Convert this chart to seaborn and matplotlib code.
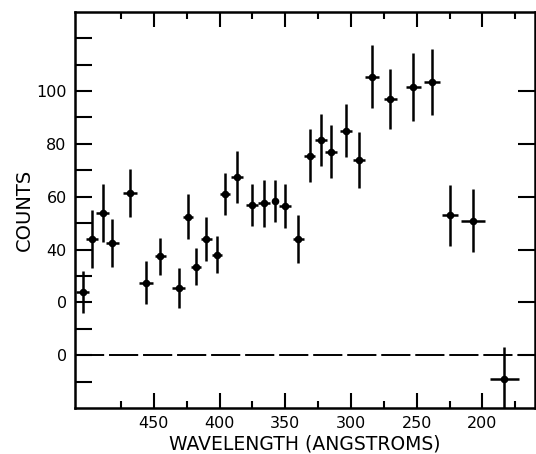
import numpy as np
import pandas as pd
import matplotlib
matplotlib.use("Agg")
import matplotlib.pyplot as plt
import seaborn as sns

# data
wavelength = [504, 497, 489, 481.5, 468, 456, 445, 431, 424, 418, 410, 402, 396,
              386.5, 375.5, 366.5, 358, 350, 340, 331.5, 322.5, 315, 304, 294,
              284, 270, 252.5, 238.5, 224.5, 207, 183.5]
counts = [24, 44, 54, 42.5, 61.5, 27.5, 37.5, 25.5, 52.5, 33.5, 44, 38, 61,
          67.5, 57, 57.5, 58.5, 56.5, 44, 75.5, 81.5, 77, 85, 74,
          105.5, 97, 101.5, 103.5, 53, 51, -9]
count_err = [8, 11, 11, 9, 9, 8, 7, 7.5, 8.5, 7, 8.5, 7, 8,
             10, 8, 9, 8, 8.5, 9, 10, 10, 10, 10, 10.5,
             12, 11.5, 13, 12.5, 11.5, 12, 12]
wave_err = [5, 4.5, 5, 5, 5.5, 5, 4.5, 5, 4, 4, 4.5, 4, 4,
            4.5, 4.5, 4.5, 0, 4.5, 4.5, 4.5, 4.5, 4.5, 4.5, 4.5,
            5.5, 5, 6, 6, 6, 9, 11]

ytick_vals = [0, 20, 40, 60, 80, 100]
ytick_text = ["0", "0", "40", "60", "80", "100"]
xtick_vals = [450, 400, 350, 300, 250, 200]

df = pd.DataFrame({"wavelength": wavelength, "counts": counts})

sns.set_theme(style="ticks")
plt.rcParams["font.family"] = ["DejaVu Sans"]

fig = plt.figure(figsize=(5.36, 4.54), dpi=100)
ax = fig.add_axes([0.14, 0.101, 0.858, 0.873])

ax.errorbar(wavelength, counts, xerr=wave_err, yerr=count_err, fmt="none",
            ecolor="black", elinewidth=1.8, capsize=0)
sns.scatterplot(data=df, x="wavelength", y="counts", ax=ax, color="black",
                marker="o", s=30, edgecolor="black", linewidth=0, zorder=3)

# zero line
ax.axhline(0, color="black", lw=1.4, ls=(0, (15, 2.5)))

ax.set_xlim(510, 160)
ax.set_ylim(-20, 130)

ax.set_xticks(xtick_vals)
ax.set_xticks(np.arange(475, 160, -50), minor=True)
ax.set_yticks(ytick_vals)
ax.set_yticklabels(ytick_text)
ax.set_yticks([-10, 10, 30, 50, 70, 90, 110, 120], minor=True)

ax.tick_params(which="both", direction="in", top=True, right=True,
               width=1.5, color="black", labelsize=11.5, labelcolor="black")
ax.tick_params(axis="y", which="both", length=12, pad=6)
ax.tick_params(axis="y", which="minor", right=False)
ax.tick_params(axis="x", which="major", length=11, pad=6)
ax.tick_params(axis="x", which="minor", length=5)

for sp in ax.spines.values():
    sp.set_linewidth(1.8)
    sp.set_color("black")

ax.set_xlabel("WAVELENGTH (ANGSTROMS)", fontsize=13.5, labelpad=2, color="black")
ax.set_ylabel("COUNTS", fontsize=14, labelpad=2, color="black")

fig.savefig("out.png", dpi=100)
